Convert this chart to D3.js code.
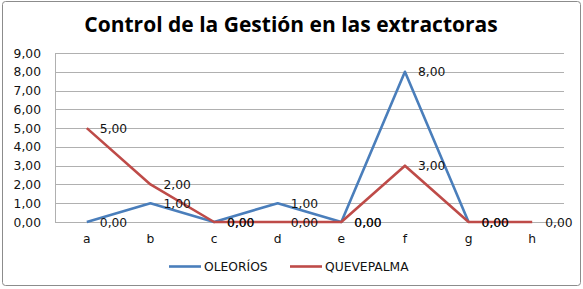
<!DOCTYPE html>
<html>
<head>
<meta charset="utf-8">
<script src="https://cdn.jsdelivr.net/npm/d3@7"></script>
<style>
  body { margin: 0; background: #fff; }
  svg { display: block; }
</style>
</head>
<body>
<svg id="chart"></svg>
<script>
// Chart data
const categories = ['a', 'b', 'c', 'd', 'e', 'f', 'g', 'h'];
const oleorios = [0, 1, 0, 1, 0, 8, 0, null];
const quevepalma = [5, 2, 0, 0, 0, 3, 0, 0];
const yTicks = [0, 1, 2, 3, 4, 5, 6, 7, 8, 9];

const series = [
    { name: 'OLEORÍOS', values: oleorios, color: '#4a7ebb' },
    { name: 'QUEVEPALMA', values: quevepalma, color: '#be4b48' }
];

const width = 583;
const height = 289;
const margin = { top: 53, right: 19, bottom: 67, left: 55 };

const svg = d3.select('#chart')
    .attr('width', width)
    .attr('height', height);

// Outer border
svg.append('rect')
    .attr('x', 2.5).attr('y', 1.5)
    .attr('width', 578).attr('height', 284)
    .attr('rx', 3)
    .attr('fill', '#fff')
    .attr('stroke', '#8c8c8c')
    .attr('stroke-width', 1);

// Title
svg.append('text')
    .attr('x', 291)
    .attr('y', 32)
    .attr('text-anchor', 'middle')
    .style('font-family', '"Open Sans", sans-serif')
    .style('font-weight', 'bold')
    .style('font-size', '21px')
    .text('Control de la Gestión en las extractoras');

const x = d3.scaleBand()
    .domain(categories)
    .range([margin.left, width - margin.right]);

const y = d3.scaleLinear()
    .domain([0, 9])
    .range([height - margin.bottom, margin.top]);

const fmt = v => d3.format('.2f')(v).replace('.', ',');

// Gridlines
svg.append('g')
    .selectAll('line')
    .data(yTicks)
    .enter()
    .append('line')
    .attr('x1', margin.left)
    .attr('x2', width - margin.right)
    .attr('y1', d => Math.round(y(d)) + 0.5)
    .attr('y2', d => Math.round(y(d)) + 0.5)
    .attr('stroke', '#b0b0b0')
    .attr('stroke-width', 1);

// Left axis line
svg.append('line')
    .attr('x1', margin.left + 0.5).attr('x2', margin.left + 0.5)
    .attr('y1', margin.top).attr('y2', y(0))
    .attr('stroke', '#b0b0b0');

const labelFont = '"DejaVu Sans", Verdana, sans-serif';
const labelSize = '12.3px';

// Y labels
svg.append('g')
    .selectAll('text')
    .data(yTicks)
    .enter()
    .append('text')
    .attr('x', 41)
    .attr('y', d => y(d) + 4.5)
    .attr('text-anchor', 'end')
    .style('font-family', labelFont)
    .style('font-size', labelSize)
    .style('fill', '#111')
    .text(fmt);

// X labels
svg.append('g')
    .selectAll('text')
    .data(categories)
    .enter()
    .append('text')
    .attr('x', d => x(d) + x.bandwidth() / 2)
    .attr('y', y(0) + 21)
    .attr('text-anchor', 'middle')
    .style('font-family', labelFont)
    .style('font-size', labelSize)
    .style('fill', '#111')
    .text(d => d);

const line = d3.line()
    .defined(d => d.v !== null)
    .x(d => x(d.c) + x.bandwidth() / 2)
    .y(d => y(d.v));

// Lines (red drawn on top)
series.forEach(s => {
    const pts = categories.map((c, i) => ({ c, v: s.values[i] }));
    svg.append('path')
        .datum(pts)
        .attr('d', line)
        .attr('fill', 'none')
        .attr('stroke', s.color)
        .attr('stroke-width', 2.6)
        .attr('stroke-linejoin', 'round');
});

// Data labels
series.forEach(s => {
    const pts = categories.map((c, i) => ({ c, v: s.values[i] })).filter(d => d.v !== null);
    svg.append('g')
        .selectAll('text')
        .data(pts)
        .enter()
        .append('text')
        .attr('x', d => x(d.c) + x.bandwidth() / 2 + 13)
        .attr('y', d => y(d.v) + 4.5)
        .style('font-family', labelFont)
        .style('font-size', labelSize)
        .style('fill', '#111')
        .text(d => fmt(d.v));
});

// Legend
const legend = svg.append('g');
const legendItems = [
    { s: series[0], x: 169 },
    { s: series[1], x: 290 }
];
legendItems.forEach(item => {
    legend.append('line')
        .attr('x1', item.x).attr('x2', item.x + 32)
        .attr('y1', 266.5).attr('y2', 266.5)
        .attr('stroke', item.s.color)
        .attr('stroke-width', 2.6);
    legend.append('text')
        .attr('x', item.x + 35)
        .attr('y', 271)
        .style('font-family', labelFont)
        .style('font-size', labelSize)
        .style('fill', '#111')
        .text(item.s.name);
});
</script>
</body>
</html>
